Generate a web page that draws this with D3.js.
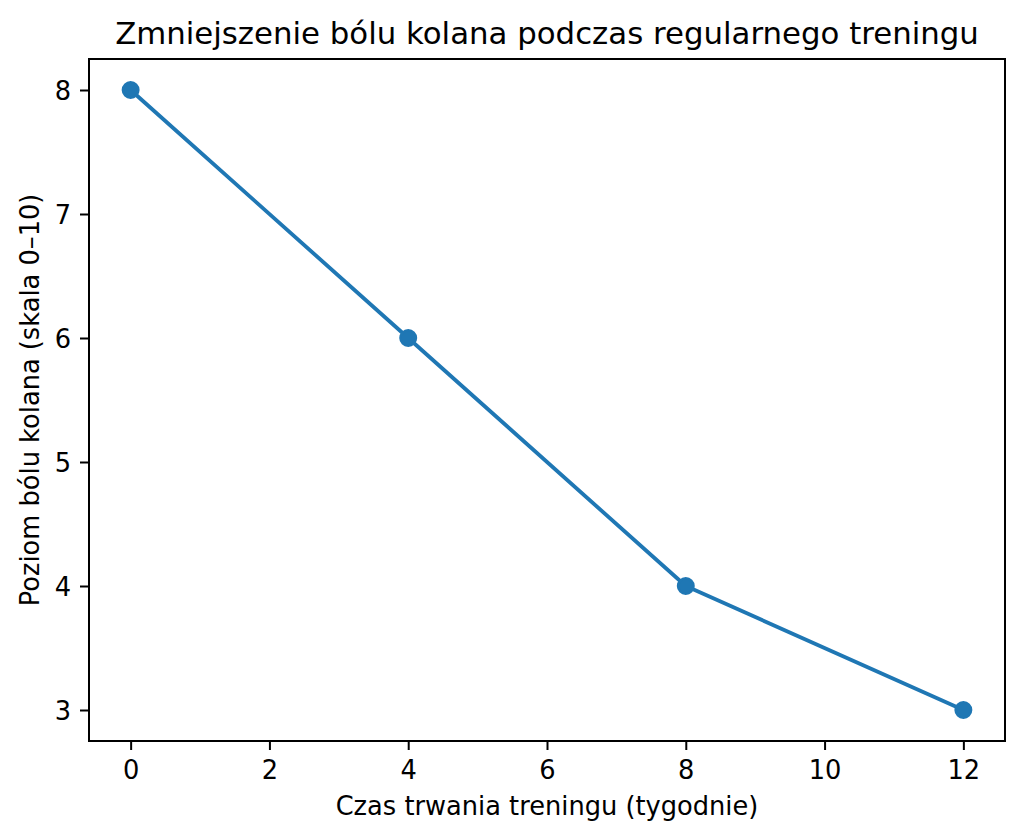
<!DOCTYPE html>
<html>
<head>
<meta charset="utf-8">
<script src="https://cdn.jsdelivr.net/npm/d3@7"></script>
<style>
  body { margin: 0; background: #fff; }
  text { font-family: "DejaVu Sans", sans-serif; fill: #000; }
</style>
</head>
<body>
<div class="chart_Container"></div>
<script>
// data
const weeks = [0, 4, 8, 12];
const pain = [8, 6, 4, 3];
const xTicks = [0, 2, 4, 6, 8, 10, 12];
const yTicks = [3, 4, 5, 6, 7, 8];

const title = 'Zmniejszenie bólu kolana podczas regularnego treningu';
const xTitle = 'Czas trwania treningu (tygodnie)';
const yTitle = 'Poziom bólu kolana (skala 0–10)';

// plot box in page pixels
var margin = ({top: 59, bottom: 99, left: 89, right: 19});
const W = 1024, H = 840;
const width = W - margin.left - margin.right;
const height = H - margin.top - margin.bottom;

const svg = d3.select('.chart_Container')
  .append('svg')
  .attr('width', W)
  .attr('height', H);

const g = svg.append('g')
  .attr('transform', `translate(${margin.left},${margin.top})`);

// matplotlib-like 5% margins
const x = d3.scaleLinear().domain([-0.6, 12.6]).range([0, width]);
const y = d3.scaleLinear().domain([2.75, 8.25]).range([height, 0]);

const tickLen = 9, tickPad = 9;

const xAxis = d3.axisBottom(x).tickValues(xTicks).tickFormat(d3.format('d'))
  .tickSize(tickLen).tickPadding(tickPad);
const yAxis = d3.axisLeft(y).tickValues(yTicks).tickFormat(d3.format('d'))
  .tickSize(tickLen).tickPadding(tickPad);

const gx = g.append('g')
  .attr('transform', `translate(0,${height})`)
  .call(xAxis);
const gy = g.append('g').call(yAxis);

[gx, gy].forEach(a => {
  a.select('.domain').remove();
  a.selectAll('.tick line').attr('stroke', '#000').attr('stroke-width', 2);
  a.selectAll('.tick text')
    .style('font-family', '"DejaVu Sans", sans-serif')
    .style('font-size', '25.7px')
    .attr('fill', '#000');
});
gx.selectAll('.tick text').attr('dy', null).attr('y', tickLen + tickPad + 19.5);
gy.selectAll('.tick text').attr('dy', '0.36em');

// line + markers
const line = d3.line()
  .x((d, i) => x(weeks[i]))
  .y(d => y(d));

g.append('path')
  .datum(pain)
  .attr('fill', 'none')
  .attr('stroke', '#1f77b4')
  .attr('stroke-width', 3.85)
  .attr('stroke-linejoin', 'round')
  .attr('stroke-linecap', 'square')
  .attr('d', line);

g.selectAll('.dot')
  .data(pain)
  .enter()
  .append('circle')
  .attr('class', 'dot')
  .attr('cx', (d, i) => x(weeks[i]))
  .attr('cy', d => y(d))
  .attr('r', 7.7)
  .attr('fill', '#1f77b4')
  .attr('stroke', '#1f77b4')
  .attr('stroke-width', 2.57);

// frame
g.append('rect')
  .attr('width', width)
  .attr('height', height)
  .attr('fill', 'none')
  .attr('stroke', '#000')
  .attr('stroke-width', 2);

// texts
svg.append('text')
  .attr('x', margin.left + width / 2)
  .attr('y', 44)
  .attr('text-anchor', 'middle')
  .style('font-size', '30.8px')
  .text(title);

svg.append('text')
  .attr('x', margin.left + width / 2)
  .attr('y', 815)
  .attr('text-anchor', 'middle')
  .style('font-size', '25.7px')
  .text(xTitle);

svg.append('text')
  .attr('transform', `translate(38.5,${margin.top + height / 2}) rotate(-90)`)
  .attr('text-anchor', 'middle')
  .style('font-size', '25.7px')
  .text(yTitle);
</script>
</body>
</html>
